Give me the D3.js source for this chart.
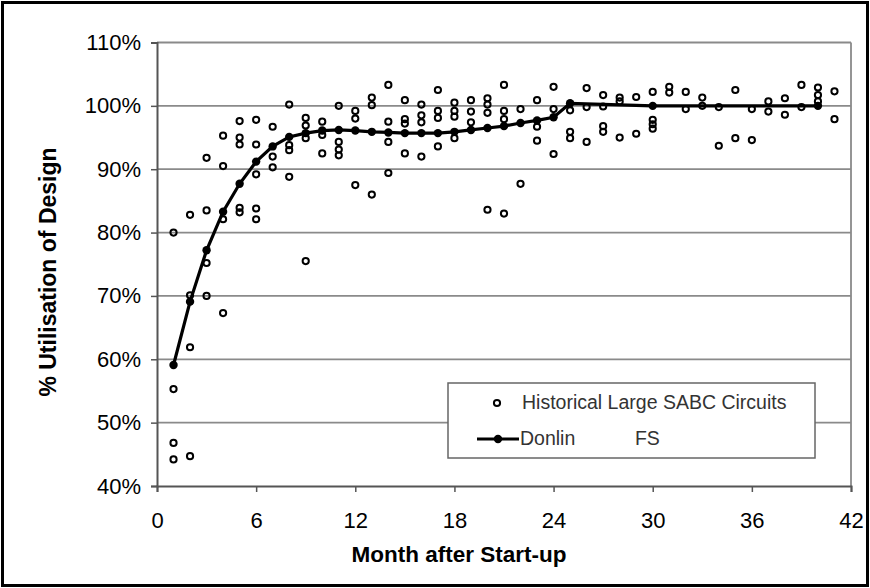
<!DOCTYPE html>
<html>
<head>
<meta charset="utf-8">
<script src="https://cdn.jsdelivr.net/npm/d3@7"></script>
<style>
  body { margin: 0; background: #fff; }
  svg text { font-family: "Liberation Sans", Arial, sans-serif; }
</style>
</head>
<body>
<div class="canvas"></div>
<script>
// historical scatter: month after start-up and % utilisation
const histMonths = [
  1, 1, 1, 1,
  2, 2, 2, 2,
  3, 3, 3, 3,
  4, 4, 4, 4,
  5, 5, 5, 5, 5,
  6, 6, 6, 6, 6,
  7, 7, 7,
  8, 8, 8, 8,
  9, 9, 9, 9,
  10, 10, 10,
  11, 11, 11, 11,
  12, 12, 12,
  13, 13, 13,
  14, 14, 14, 14,
  15, 15, 15, 15,
  16, 16, 16, 16,
  17, 17, 17, 17,
  18, 18, 18, 18,
  19, 19, 19,
  20, 20, 20, 20,
  21, 21, 21, 21,
  22, 22,
  23, 23, 23,
  24, 24, 24,
  25, 25, 25,
  26, 26, 26,
  27, 27, 27, 27,
  28, 28, 28,
  29, 29,
  30, 30, 30, 30,
  31, 31,
  32, 32,
  33, 33,
  34, 34,
  35, 35,
  36, 36,
  37, 37,
  38, 38,
  39, 39,
  40, 40, 40,
  41, 41
];
const histValues = [
  80.0, 55.3, 46.8, 44.2,
  82.8, 70.1, 61.9, 44.7,
  91.8, 83.5, 75.2, 70.0,
  95.3, 90.5, 82.1, 67.3,
  97.6, 95.0, 93.9, 83.9, 83.2,
  97.8, 93.9, 89.2, 83.8, 82.1,
  96.7, 92.0, 90.3,
  100.2, 93.8, 93.0, 88.8,
  98.1, 96.9, 94.9, 75.5,
  97.5, 95.4, 92.5,
  100.0, 94.3, 93.1, 92.2,
  99.2, 98.0, 87.5,
  101.3, 100.1, 86.0,
  103.3, 97.5, 94.3, 89.4,
  100.9, 97.9, 97.2, 92.5,
  100.2, 98.5, 97.4, 92.0,
  102.5, 99.2, 98.1, 93.6,
  100.5, 99.2, 98.3, 94.9,
  100.9, 99.1, 97.4,
  101.2, 100.2, 98.9, 83.6,
  103.3, 99.2, 97.9, 83.0,
  99.5, 87.7,
  100.9, 96.7, 94.5,
  103.0, 99.5, 92.4,
  99.3, 95.9, 94.9,
  102.8, 99.8, 94.3,
  101.7, 99.9, 96.8, 95.9,
  101.3, 100.7, 95.0,
  101.4, 95.6,
  102.2, 97.8, 97.1, 96.4,
  103.0, 102.1,
  102.2, 99.5,
  101.3, 100.0,
  99.8, 93.7,
  102.5, 94.9,
  99.5, 94.6,
  100.7, 99.1,
  101.2, 98.6,
  103.3, 99.8,
  102.9, 101.7, 100.7,
  102.3, 97.9
];

// Donlin FS ramp-up curve
const fsMonths = [1, 2, 3, 4, 5, 6, 7, 8, 9, 10, 11, 12, 13, 14, 15, 16, 17, 18, 19, 20, 21, 22, 23, 24, 25, 30, 40];
const fsValues = [59.1, 69.1, 77.2, 83.3, 87.7, 91.2, 93.6, 95.1, 95.7, 96.1, 96.2, 96.1, 95.9, 95.8, 95.7, 95.7, 95.7, 95.9, 96.2, 96.5, 96.8, 97.3, 97.7, 98.2, 100.4, 100, 100];

// axis ticks
const xTicks = [0, 6, 12, 18, 24, 30, 36, 42];
const yTicks = [40, 50, 60, 70, 80, 90, 100, 110];

const dims = { width: 870, height: 588 };
const plot = { left: 157, right: 851, top: 42.5, bottom: 486 };

const svg = d3.select('.canvas')
    .append('svg')
    .attr('width', dims.width)
    .attr('height', dims.height);

// outer frame
svg.append('rect')
    .attr('x', 2.5).attr('y', 2.5)
    .attr('width', dims.width - 5).attr('height', dims.height - 5)
    .attr('fill', '#fff')
    .attr('stroke', '#000')
    .attr('stroke-width', 3);

const x = d3.scaleLinear().domain([0, 42]).range([plot.left, plot.right]);
const y = d3.scaleLinear().domain([40, 110]).range([plot.bottom, plot.top]);

// gridlines
svg.append('g')
    .selectAll('line')
    .data(yTicks.filter(t => t > 40))
    .enter()
    .append('line')
    .attr('x1', plot.left).attr('x2', plot.right)
    .attr('y1', d => y(d)).attr('y2', d => y(d))
    .attr('stroke', '#8a8a8a')
    .attr('stroke-width', 1.8);

// right border of plot area
svg.append('line')
    .attr('x1', plot.right).attr('x2', plot.right)
    .attr('y1', plot.top).attr('y2', plot.bottom)
    .attr('stroke', '#8a8a8a')
    .attr('stroke-width', 1.8);

// axes
const yAxis = svg.append('g')
    .attr('transform', `translate(${plot.left}, 0)`)
    .call(d3.axisLeft(y).tickValues(yTicks).tickSize(6).tickPadding(10).tickFormat(d => d + '%'));

const xAxis = svg.append('g')
    .attr('transform', `translate(0, ${plot.bottom})`)
    .call(d3.axisBottom(x).tickValues(xTicks).tickSize(6).tickPadding(20).tickFormat(d => d));

[yAxis, xAxis].forEach(ax => {
    ax.select('.domain').attr('stroke', '#555').attr('stroke-width', 2);
    ax.selectAll('.tick line').attr('stroke', '#555').attr('stroke-width', 1.5);
    ax.selectAll('.tick text')
        .attr('fill', '#000')
        .style('font-size', '22px');
});

// axis titles
svg.append('text')
    .attr('x', 459)
    .attr('y', 562)
    .attr('text-anchor', 'middle')
    .style('font-size', '22.5px')
    .style('font-weight', 'bold')
    .text('Month after Start-up');

svg.append('text')
    .attr('transform', 'translate(56, 272) rotate(-90)')
    .attr('text-anchor', 'middle')
    .style('font-size', '23px')
    .style('font-weight', 'bold')
    .text('% Utilisation of Design');

// historical scatter points
svg.append('g')
    .selectAll('circle')
    .data(histMonths.map((m, i) => ({ m, v: histValues[i] })))
    .enter()
    .append('circle')
    .attr('cx', d => x(d.m))
    .attr('cy', d => y(d.v))
    .attr('r', 3.1)
    .attr('fill', 'none')
    .attr('stroke', '#000')
    .attr('stroke-width', 2);

// Donlin FS line
const fsData = fsMonths.map((m, i) => ({ m, v: fsValues[i] }));

svg.append('path')
    .datum(fsData)
    .attr('fill', 'none')
    .attr('stroke', '#000')
    .attr('stroke-width', 3.2)
    .attr('d', d3.line().x(d => x(d.m)).y(d => y(d.v)));

svg.append('g')
    .selectAll('circle')
    .data(fsData)
    .enter()
    .append('circle')
    .attr('cx', d => x(d.m))
    .attr('cy', d => y(d.v))
    .attr('r', 4.2)
    .attr('fill', '#000');

// legend
const legend = svg.append('g').attr('transform', 'translate(448, 383)');

legend.append('rect')
    .attr('width', 367).attr('height', 75)
    .attr('fill', '#fff')
    .attr('stroke', '#666')
    .attr('stroke-width', 1.5);

legend.append('circle')
    .attr('cx', 49).attr('cy', 20)
    .attr('r', 3.1)
    .attr('fill', 'none')
    .attr('stroke', '#000')
    .attr('stroke-width', 2);

legend.append('text')
    .attr('x', 74).attr('y', 26)
    .attr('fill', '#333')
    .style('font-size', '19.5px')
    .text('Historical Large SABC Circuits');

legend.append('line')
    .attr('x1', 29).attr('x2', 71)
    .attr('y1', 56).attr('y2', 56)
    .attr('stroke', '#000')
    .attr('stroke-width', 3.2);

legend.append('circle')
    .attr('cx', 50).attr('cy', 56)
    .attr('r', 4.2)
    .attr('fill', '#000');

legend.append('text')
    .attr('x', 72).attr('y', 62)
    .attr('fill', '#333')
    .style('font-size', '19.5px')
    .style('white-space', 'pre')
    .text('Donlin           FS');
</script>
</body>
</html>
